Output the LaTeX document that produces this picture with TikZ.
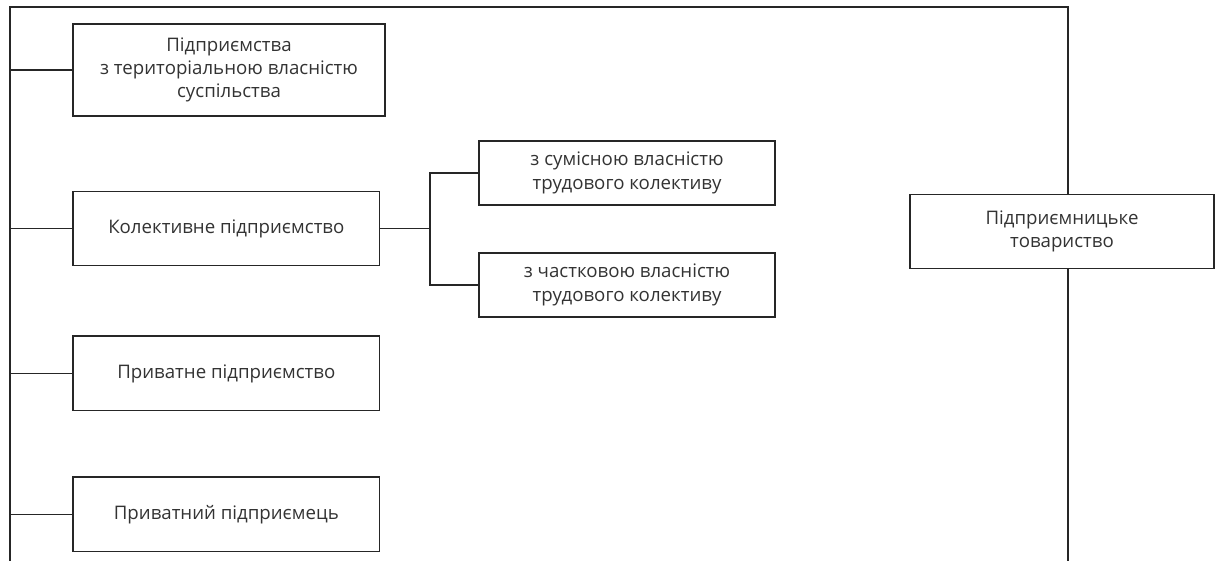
\documentclass[tikz,border=0pt]{standalone}
\usepackage{fontspec}
\setmainfont{Open Sans}
\usetikzlibrary{positioning}
\tikzset{
  kind/.style    = {rectangle, draw=black!85, line width=0.9pt, text=black!80,
                    minimum width=230pt, minimum height=56pt, align=center,
                    font=\fontsize{14}{17.5}\selectfont},
  subkind/.style = {kind, minimum width=222pt, minimum height=48pt},
  link/.style    = {draw=black!85, line width=0.9pt}
}
\begin{document}
\begin{tikzpicture}[x=0.75pt, y=-0.75pt]
  \useasboundingbox (0,0) rectangle (1215,561);

  \coordinate (tl) at (10,7);
  \coordinate (tr) at (1068,7);
  \coordinate (bl) at (10,561);
  \coordinate (br) at (1068,561);

  \node[kind, minimum width=234pt, minimum height=69pt] (terr) at (229,70)
                   {Підприємства\\з територіальною власністю\\суспільства};
  \node[kind, below=55.5pt of terr.south west, anchor=north west] (kol)
                   {Колективне підприємство};
  \node[kind] (priv) [below=51.75pt of kol]  {Приватне підприємство};
  \node[kind] (pers) [below=48.75pt of priv] {Приватний підприємець};

  \node[subkind] (joint) at (627,173) {з сумісною власністю\\трудового колективу};
  \node[subkind] (part)  at (627,285) {з частковою власністю\\трудового колективу};
  \coordinate (fork) at (430,0 |- kol.east);

  \node[kind, minimum width=228pt] (firm) at (1062,231.5)
                   {Підприємницьке\\товариство};

  \draw[link] (bl) -- (tl) -- (tr) -- (tr |- firm.north);
  \draw[link] (firm.south -| br) -- (br);

  \draw[link] (terr.west -| tl) -- (terr.west);
  \draw[link] (kol.west -| tl) -- (kol.west);
  \draw[link] (priv.west -| tl) -- (priv.west);
  \draw[link] (pers.west -| tl) -- (pers.west);

  \draw[link] (kol.east) -- (fork);
  \draw[link] (joint.west) -| (fork) |- (part.west);
\end{tikzpicture}
\end{document}
